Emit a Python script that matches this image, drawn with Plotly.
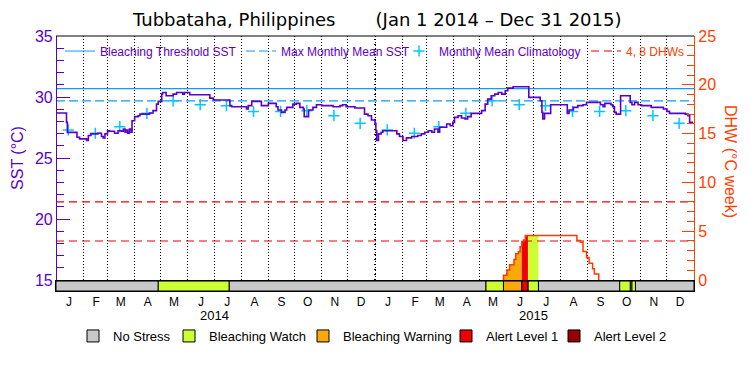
import pandas as pd
import plotly.graph_objects as go

# ---------------- data ----------------
BASE_DATE = "2014-01-01"
END_DATE = "2016-01-01"
YEAR_BOUNDARY = "2015-01-01"

# SST (deg C) as a step series: day offset from Jan 1 2014 -> value
SST_DAY = [0, 12, 13, 24, 27, 35, 37, 40, 48, 52, 54, 56, 59, 61, 67, 71, 75, 77, 79, 80,
           82, 84, 86, 87, 90, 94, 96, 107, 111, 115, 117, 121, 122, 126, 134, 138, 145, 147, 153, 176,
           180, 199, 201, 218, 220, 224, 235, 243, 252, 254, 258, 262, 264, 271, 275, 279, 283, 284, 289, 294,
           298, 304, 317, 325, 328, 332, 342, 353, 357, 361, 365, 366, 367, 369, 372, 374, 390, 393, 397, 401,
           407, 414, 418, 422, 426, 430, 433, 437, 439, 447, 451, 454, 456, 460, 464, 468, 471, 475, 487, 491,
           494, 498, 502, 506, 510, 514, 517, 523, 541, 554, 556, 557, 559, 566, 585, 587, 592, 597, 603, 607,
           623, 626, 628, 635, 637, 639, 641, 646, 657, 659, 662, 666, 670, 681, 695, 699, 702, 720, 723, 725,
           729]
SST_VALUES = [28.69, 27.92, 27.10, 26.70, 26.57, 26.43, 26.84, 26.98, 27.03, 26.76, 26.65, 26.98, 27.24, 27.19, 27.03, 27.24, 27.19, 27.38, 27.11, 27.30,
              27.03, 27.38, 27.11, 28.06, 28.39, 28.47, 28.60, 28.69, 28.88, 29.42, 29.64, 30.24, 30.37, 30.10, 30.24, 30.37, 30.24, 30.37, 30.18, 29.91,
              29.75, 29.29, 29.20, 29.02, 29.29, 29.64, 29.29, 29.48, 29.20, 28.93, 28.74, 28.93, 29.15, 29.42, 29.48, 29.15, 29.02, 28.39, 28.93, 29.15,
              29.37, 29.29, 29.20, 29.29, 29.37, 29.20, 29.10, 28.60, 28.47, 28.12, 27.84, 27.24, 26.43, 26.98, 27.11, 27.24, 26.98, 26.76, 26.43, 26.65,
              26.76, 26.84, 26.98, 27.11, 27.24, 27.11, 27.38, 27.11, 27.52, 27.79, 27.65, 27.92, 28.33, 28.47, 28.28, 28.20, 28.39, 28.66, 28.88, 29.42,
              29.83, 30.10, 30.24, 30.37, 30.24, 30.51, 30.73, 30.84, 29.97, 29.69, 28.74, 28.20, 28.66, 29.37, 28.66, 28.93, 29.15, 29.29, 29.37, 29.56,
              29.37, 29.20, 29.48, 29.37, 29.20, 28.74, 28.60, 30.10, 29.56, 29.37, 29.56, 29.37, 29.29, 29.15, 29.02, 28.82, 28.66, 28.60, 28.47, 27.92,
              27.92]

# Monthly mean climatology (Jan..Dec), shown for both years
CLIM_MONTHLY = [27.30, 27.03, 27.57, 28.66, 29.69, 29.37, 29.29, 28.82, 28.82, 28.88, 28.47, 27.84]
CLIM_YEARS = [2014, 2015]
MMM = 29.69                 # max monthly mean
BLEACHING_THRESHOLD = 30.69  # MMM + 1
DHW_LEVELS = [4, 8]

# Degree Heating Weeks step series
DHW_DATES = ["2015-05-27", "2015-05-28", "2015-06-01", "2015-06-04", "2015-06-09", "2015-06-11",
             "2015-06-14", "2015-06-16", "2015-06-18", "2015-06-20", "2015-06-22", "2015-08-20",
             "2015-08-24", "2015-08-27", "2015-08-31", "2015-09-03", "2015-09-07", "2015-09-09",
             "2015-09-14"]
DHW_VALUES = [0, 0.48, 1.02, 1.56, 2.10, 2.70, 2.90, 3.40, 3.95, 4.10, 4.56, 4.05,
              3.88, 2.93, 2.30, 1.73, 1.15, 0.61, 0]

# Bleaching alert stress periods
STRESS_START = ["2014-01-01", "2014-04-28", "2014-07-18", "2015-05-08", "2015-05-28", "2015-06-18",
                "2015-06-25", "2015-07-07", "2015-10-08", "2015-10-20", "2015-10-22", "2015-10-26"]
STRESS_END = ["2014-04-28", "2014-07-18", "2015-05-08", "2015-05-28", "2015-06-18", "2015-06-25",
              "2015-07-07", "2015-10-08", "2015-10-20", "2015-10-22", "2015-10-26", "2016-01-01"]
STRESS_LEVEL = ["No Stress", "Bleaching Watch", "No Stress", "Bleaching Watch", "Bleaching Warning",
                "Alert Level 1", "Bleaching Watch", "No Stress", "Bleaching Watch", "No Stress",
                "Bleaching Watch", "No Stress"]
STRESS_CATEGORIES = ["No Stress", "Bleaching Watch", "Bleaching Warning", "Alert Level 1", "Alert Level 2"]

MONTH_LETTERS = ["J", "F", "M", "A", "M", "J", "J", "A", "S", "O", "N", "D"]
YEAR_LABELS = ["2014", "2015"]

# ---------------- styles ----------------
PURPLE = "#5a00cd"
BLUE = "#0a9cff"
CYAN = "#00c8ff"
DHW_COLOR = "#ff3a00"
DHW_AXIS = "#ff4000"
RED_DASH = "#f00000"
STRESS_COLORS = {"No Stress": "#c8c8c8", "Bleaching Watch": "#ccff33",
                 "Bleaching Warning": "#faa80a", "Alert Level 1": "#ee0000",
                 "Alert Level 2": "#960000"}
FONT = "Liberation Sans, Arial, sans-serif"
WIDE_FONT = "DejaVu Sans, Verdana, sans-serif"

# plot-area geometry (px) used to place legends
M_L, M_R, M_T, M_B = 56, 56, 36, 84
PW = 750 - M_L - M_R
PH = 375 - M_T - M_B


def px_x(px):
    return (px - M_L) / PW


def px_y(py):
    return (375 - M_B - py) / PH


base = pd.Timestamp(BASE_DATE)
end = pd.Timestamp(END_DATE)
sst_dates = base + pd.to_timedelta(SST_DAY, unit="D")
dhw_dates = pd.to_datetime(DHW_DATES)
clim_dates = [pd.Timestamp(f"{y}-{m:02d}-15") for y in CLIM_YEARS for m in range(1, 13)]
clim_vals = CLIM_MONTHLY * len(CLIM_YEARS)
month_mid = [pd.Timestamp(f"{y}-{m:02d}-16") for y in CLIM_YEARS for m in range(1, 13)]
month_text = MONTH_LETTERS * len(CLIM_YEARS)
month_starts = pd.date_range(base, end, freq="MS")


def dhw_at(t):
    v = 0.0
    for d, val in zip(dhw_dates, DHW_VALUES):
        if d <= t:
            v = val
    return v


fig = go.Figure()

# stress bar (bottom strip); each category gets its own legend slot
bottom_text_px = [113, 209, 343, 486, 594]
for k, cat in enumerate(STRESS_CATEGORIES):
    xs, ws = [], []
    for s, e, lev in zip(STRESS_START, STRESS_END, STRESS_LEVEL):
        if lev == cat:
            s, e = pd.Timestamp(s), pd.Timestamp(e)
            xs.append(s + (e - s) / 2)
            ws.append((e - s).total_seconds() * 1000)
    fig.add_trace(go.Bar(
        x=xs if xs else [None], y=[1] * len(xs) if xs else [None],
        width=ws if ws else None, yaxis="y3", name=cat, legend=f"legend{k + 6}",
        marker=dict(color=STRESS_COLORS[cat], line=dict(color="black", width=1)),
        hoverinfo="skip"))

# coloured fill under DHW for stress periods
for s, e, lev in zip(STRESS_START, STRESS_END, STRESS_LEVEL):
    if lev == "No Stress":
        continue
    s, e = pd.Timestamp(s), pd.Timestamp(e)
    xs = [s] + [d for d in dhw_dates if s < d < e] + [e]
    ys = [dhw_at(x) for x in xs]
    if max(ys) <= 0:
        continue
    fig.add_trace(go.Scatter(x=xs, y=ys, yaxis="y2", mode="lines", fill="tozeroy",
                             fillcolor=STRESS_COLORS[lev], line=dict(width=0, shape="hv"),
                             showlegend=False, hoverinfo="skip"))

# reference lines / legend items (each in own legend slot)
fig.add_trace(go.Scatter(x=[base, end], y=[BLEACHING_THRESHOLD] * 2, mode="lines",
                         line=dict(color=BLUE, width=1.2), name="Bleaching Threshold SST",
                         legend="legend"))
fig.add_trace(go.Scatter(x=[base, end], y=[MMM] * 2, mode="lines",
                         line=dict(color=BLUE, width=1.2, dash="9px,4px"), name="Max Monthly Mean SST",
                         legend="legend2"))
fig.add_trace(go.Scatter(x=clim_dates, y=clim_vals, mode="markers",
                         marker=dict(symbol="cross-thin", size=8, line=dict(color=CYAN, width=1.5)),
                         name="Monthly Mean Climatology", legend="legend3"))
dx, dy = [], []
for lvl in DHW_LEVELS:
    dx += [base, end, None]
    dy += [lvl, lvl, None]
fig.add_trace(go.Scatter(x=dx, y=dy, yaxis="y2", mode="lines",
                         line=dict(color=RED_DASH, width=1.2, dash="8px,5px"),
                         name=f"<span style='color:{DHW_AXIS}'>4, 8 DHWs</span>", legend="legend4"))

# DHW and SST lines
fig.add_trace(go.Scatter(x=dhw_dates, y=DHW_VALUES, yaxis="y2", mode="lines",
                         line=dict(color=DHW_COLOR, width=1.5, shape="hv"), showlegend=False))
fig.add_trace(go.Scatter(x=sst_dates, y=SST_VALUES, mode="lines",
                         line=dict(color=PURPLE, width=1.6, shape="hv"), showlegend=False))

legends = {}
top_text_px = [100, 281, 439, 626]
for k, tx in enumerate(top_text_px):
    key = "legend" if k == 0 else f"legend{k + 1}"
    legends[key] = dict(orientation="h", x=px_x(tx - 40), xanchor="left", y=px_y(51), yanchor="middle",
                        bgcolor="rgba(0,0,0,0)", font=dict(size=12, color=PURPLE, family=FONT),
                        itemwidth=30)
for k, tx in enumerate(bottom_text_px):
    legends[f"legend{k + 6}"] = dict(orientation="h", x=px_x(tx - 40), xanchor="left",
                                     y=px_y(336), yanchor="middle", bgcolor="rgba(0,0,0,0)",
                                     font=dict(size=13, color="black", family=FONT))

fig.update_layout(
    width=750, height=375,
    margin=dict(l=M_L, r=M_R, t=M_T, b=M_B),
    paper_bgcolor="white", plot_bgcolor="white",
    barmode="overlay",
    font=dict(family=FONT, color=PURPLE),
    title=dict(text="Tubbataha, Philippines" + "\u00a0" * 7 + "(Jan 1 2014 \u2013 Dec 31 2015)",
               x=0.503, xanchor="center", xref="container", y=1 - 20 / 375, yanchor="middle",
               font=dict(size=18, color="black", family=WIDE_FONT)),
    xaxis=dict(type="date", range=[base, end], anchor="y3",
               tickmode="array", tickvals=month_mid, ticktext=month_text, ticks="",
               tickfont=dict(size=12, color="black"),
               showline=True, linecolor="black", linewidth=1, mirror=True,
               showgrid=False, zeroline=False,
               minor=dict(tickmode="array", tickvals=list(month_starts), showgrid=True,
                          gridcolor="black", griddash="1px,2px", gridwidth=1, ticks="")),
    yaxis=dict(domain=[0.043, 1], range=[15, 35], anchor="free", position=0,
               tickmode="linear", tick0=15, dtick=5, ticks="inside", ticklen=13,
               tickcolor=PURPLE, tickwidth=1.2,
               minor=dict(dtick=1, ticks="inside", ticklen=7, tickcolor=PURPLE, tickwidth=1.2),
               tickfont=dict(size=16, color=PURPLE),
               showline=True, linecolor=PURPLE, linewidth=1.2, showgrid=False, zeroline=False,
               title=dict(text="SST (\u00b0C)", font=dict(size=16, color=PURPLE), standoff=6)),
    yaxis2=dict(overlaying="y", side="right", range=[0, 25], anchor="free", position=1,
                tickmode="linear", tick0=0, dtick=5, ticks="inside", ticklen=12,
                tickcolor=DHW_AXIS, tickwidth=1.2,
                minor=dict(dtick=1, ticks="inside", ticklen=7, tickcolor=DHW_AXIS, tickwidth=1.2),
                tickfont=dict(size=16, color=DHW_AXIS),
                showline=True, linecolor=DHW_AXIS, linewidth=1.2, showgrid=False, zeroline=False),
    yaxis3=dict(domain=[0, 0.039], range=[0, 1], showticklabels=False, ticks="",
                showgrid=False, zeroline=False, showline=True, linecolor="black",
                linewidth=1, mirror=True, fixedrange=True),
    showlegend=True,
    **legends,
)

# frame top line and year boundary
fig.add_shape(type="line", xref="paper", yref="paper", x0=0, x1=1, y0=1, y1=1,
              line=dict(color="black", width=1))
fig.add_shape(type="line", xref="x", yref="y", x0=YEAR_BOUNDARY, x1=YEAR_BOUNDARY, y0=15, y1=35,
              line=dict(color="black", width=2, dash="1px,4px"), layer="below")

# year labels and right axis title
for i, yl in enumerate(YEAR_LABELS):
    fig.add_annotation(x=pd.Timestamp(f"{CLIM_YEARS[i]}-07-01"), xref="x", y=px_y(315), yref="paper",
                       yanchor="middle", xanchor="center",
                       text=yl, showarrow=False, font=dict(size=13, color="black"))
fig.add_annotation(x=px_x(731), xref="paper", y=px_y(161), yref="paper", xanchor="center",
                   yanchor="middle", text="DHW (\u00b0C week)",
                   textangle=90, showarrow=False, font=dict(size=16, color=DHW_AXIS))

fig.write_html("out.html", config={"displayModeBar": False},
               post_script="document.body.style.margin='0';")
